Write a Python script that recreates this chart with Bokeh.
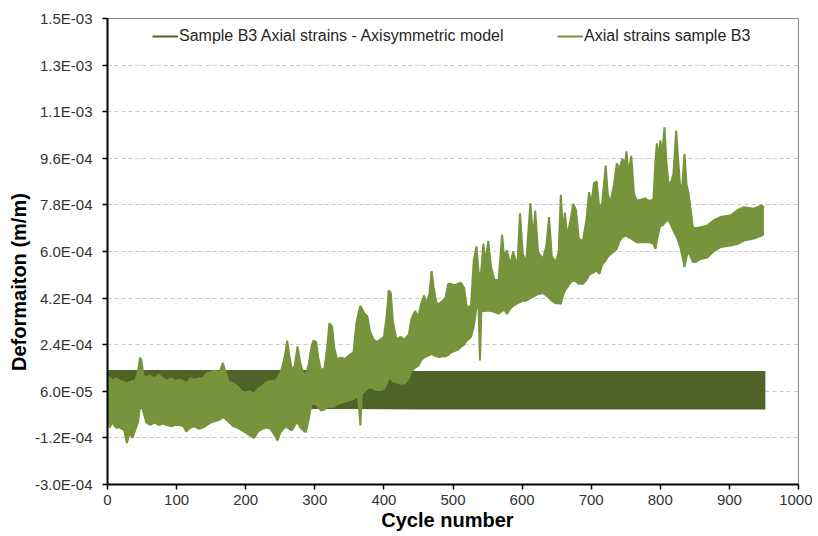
from bokeh.plotting import figure
from bokeh.models import (Range1d, FixedTicker, CustomJSTickFormatter, Legend, LegendItem,
                          ColumnDataSource)
from bokeh.embed import file_html
from bokeh.resources import INLINE

SCALE = 1e-4  # values below are given in units of 1E-04 m/m

# Model (axisymmetric) strains: dense oscillation drawn as its envelope
model_cycle = [0, 360, 450, 952]
model_low = [-0.08, -0.08, -0.10, -0.10]
model_high = [1.42, 1.42, 1.38, 1.38]

# Measured axial strains, sample B3: lower / upper envelope of the oscillation
meas_cycle = [0, 3, 7, 12, 18, 24, 28, 32, 36, 40, 44, 47, 49, 52, 56, 62, 68, 74, 80, 86,
              92, 98, 104, 110, 114, 120, 126, 132, 138, 144, 150, 156, 162, 167, 170, 176,
              182, 188, 194, 200, 206, 212, 218, 224, 230, 236, 242, 246, 250, 253, 257, 260,
              263, 267, 271, 275, 279, 283, 287, 291, 295, 298, 302, 305, 309, 314, 318, 321,
              325, 328, 332, 338, 344, 350, 356, 360, 363, 366, 368, 372, 376, 380, 385, 390,
              395, 400, 404, 407, 410, 413, 418, 424, 430, 436, 440, 445, 450, 454, 458, 462,
              466, 469, 472, 476, 480, 485, 489, 493, 497, 502, 507, 511, 516, 520, 526, 530,
              534, 537, 539, 541, 544, 547, 551, 555, 560, 566, 571, 574, 578, 583, 587, 593,
              597, 601, 606, 612, 616, 619, 623, 630, 635, 639, 643, 649, 653, 656, 659, 662,
              665, 670, 674, 678, 682, 688, 693, 697, 700, 704, 708, 712, 716, 721, 724, 728,
              733, 737, 741, 745, 749, 751, 754, 758, 762, 766, 772, 778, 784, 790, 793, 795,
              798, 800, 803, 806, 809, 812, 816, 819, 823, 826, 829, 832, 835, 838, 841, 844,
              847, 851, 858, 868, 877, 887, 902, 912, 921, 935, 947, 950]
meas_low = [-0.3, -0.8, -0.6, -0.8, -0.8, -0.9, -1.4, -1.0, -1.2, -0.9, -0.6, 0.0, 0.05, -0.2,
            -0.6, -0.7, -0.6, -0.7, -0.65, -0.7, -0.75, -0.7, -0.7, -0.75, -0.95, -0.8, -0.75,
            -0.85, -0.8, -0.7, -0.6, -0.55, -0.5, -0.4, -0.45, -0.6, -0.75, -0.8, -0.9, -1.0,
            -1.1, -1.2, -0.95, -0.85, -0.8, -0.85, -1.1, -1.3, -1.0, -0.9, -0.8, -0.78, -0.85,
            -0.91, -0.7, -0.6, -0.8, -0.9, -0.98, -0.5, 0.1, 0.12, 0.1, 0.0, -0.14, -0.1, 0.0,
            0.0, 0.0, 0.0, 0.1, 0.15, 0.2, 0.25, 0.3, 0.4, 0.3, -0.72, 0.5, 0.6, 0.7, 0.76,
            0.7, 0.65, 0.65, 0.7, 0.9, 1.1, 1.1, 1.0, 0.95, 0.9, 0.9, 1.1, 1.4, 1.5, 1.6, 1.8,
            1.9, 1.95, 2.0, 2.05, 2.0, 1.95, 1.92, 1.95, 1.95, 2.0, 2.1, 2.15, 2.2, 2.3, 2.4,
            2.56, 2.7, 3.1, 3.85, 3.8, 1.79, 3.7, 3.7, 3.7, 3.72, 3.7, 3.66, 3.6, 3.7, 3.75,
            3.59, 3.8, 3.9, 4.0, 4.05, 4.1, 4.1, 4.2, 4.25, 4.3, 4.35, 4.4, 4.3, 4.2, 4.1, 4.0,
            4.0, 3.98, 4.3, 4.5, 4.6, 4.8, 4.9, 4.85, 4.75, 4.75, 4.9, 5.1, 5.15, 5.2, 5.27,
            5.14, 5.5, 5.65, 5.8, 5.9, 6.0, 6.1, 6.4, 6.55, 6.6, 6.6, 6.55, 6.5, 6.42, 6.36,
            6.36, 6.36, 6.36, 6.3, 6.1, 6.4, 6.8, 7.0, 7.0, 7.1, 7.2, 7.2, 7.0, 6.8, 6.6, 6.4,
            6.17, 5.8, 5.4, 5.8, 6.0, 5.8, 5.6, 5.59, 5.71, 5.77, 6.0, 6.17, 6.23, 6.3, 6.42,
            6.5, 6.62, 6.68]
meas_high = [1.1, 1.15, 1.0, 1.1, 1.0, 0.95, 0.9, 0.95, 1.0, 1.0, 1.3, 1.9, 1.8, 1.2, 1.15,
             1.2, 1.1, 1.25, 1.1, 1.0, 1.1, 1.0, 1.05, 1.0, 0.9, 1.1, 1.05, 1.1, 1.1, 1.3, 1.35,
             1.4, 1.3, 1.7, 1.4, 0.95, 0.9, 0.8, 0.6, 0.55, 0.6, 0.5, 0.7, 0.8, 0.95, 1.0, 1.0,
             1.1, 1.3, 1.55, 2.0, 2.56, 2.0, 1.4, 1.6, 2.33, 1.7, 1.3, 1.25, 1.6, 2.3, 2.56,
             2.5, 1.9, 1.4, 1.5, 2.3, 3.23, 3.1, 2.3, 1.85, 1.9, 1.85, 2.0, 2.1, 3.2, 3.6, 3.9,
             3.8, 3.6, 3.5, 2.9, 2.6, 2.5, 2.6, 2.7, 3.5, 4.5, 4.4, 3.3, 2.6, 2.7, 2.6, 2.8,
             3.4, 3.7, 3.5, 4.0, 4.3, 4.0, 4.4, 5.24, 4.6, 4.0, 3.98, 4.1, 4.2, 4.75, 4.75, 4.7,
             4.75, 4.8, 4.6, 3.85, 3.9, 5.65, 6.2, 5.2, 5.0, 5.3, 6.3, 5.6, 6.4, 5.4, 4.9, 4.9,
             6.64, 5.8, 6.04, 5.5, 6.0, 5.4, 7.48, 5.9, 5.6, 7.87, 6.5, 7.58, 6.0, 5.7, 6.2,
             7.33, 5.8, 5.6, 6.0, 8.19, 6.8, 7.5, 6.6, 7.2, 7.84, 7.6, 6.5, 6.4, 7.2, 8.29, 7.8,
             8.64, 8.7, 7.6, 7.9, 9.32, 8.2, 7.9, 8.6, 9.4, 9.2, 9.58, 9.4, 9.87, 9.0, 9.7, 8.2,
             7.97, 8.0, 8.05, 7.95, 8.0, 9.5, 10.18, 9.6, 10.29, 9.8, 10.8, 9.4, 8.6, 8.7, 9.0,
             10.67, 9.5, 8.4, 8.6, 9.77, 8.6, 8.23, 7.6, 6.94, 6.9, 6.94, 7.0, 7.2, 7.33, 7.4,
             7.6, 7.71, 7.65, 7.78, 7.7]

x_ticks = [0, 100, 200, 300, 400, 500, 600, 700, 800, 900, 1000]
y_tick_labels = ["-3.0E-04", "-1.2E-04", "6.0E-05", "2.4E-04", "4.2E-04", "6.0E-04",
                 "7.8E-04", "9.6E-04", "1.1E-03", "1.3E-03", "1.5E-03"]
y_min, y_step = -3.0e-4, 1.8e-4
y_ticks = [round(y_min + i * y_step, 8) for i in range(len(y_tick_labels))]

DARK = "#4F6228"
GREEN = "#77933C"
FONT = "Liberation Sans"
NBSP = "\u00a0"

p = figure(width=812, height=536, output_backend="svg", toolbar_location=None,
           x_range=Range1d(0, 1000), y_range=Range1d(-3.0e-4, 1.5e-3),
           min_border_left=107, min_border_right=14, min_border_top=18, min_border_bottom=52)

p.outline_line_color = "#8C8C8C"
p.outline_line_width = 1
p.xgrid.visible = False
p.ygrid.grid_line_color = "#C8C8C8"
p.ygrid.grid_line_dash = "4 3"
p.ygrid.grid_line_width = 1

src_model = ColumnDataSource(dict(x=model_cycle,
                                  lo=[v * SCALE for v in model_low],
                                  hi=[v * SCALE for v in model_high],
                                  mid=[(a + b) / 2 * SCALE for a, b in zip(model_low, model_high)]))
src_meas = ColumnDataSource(dict(x=meas_cycle,
                                 lo=[v * SCALE for v in meas_low],
                                 hi=[v * SCALE for v in meas_high]))

p.varea(x="x", y1="lo", y2="hi", source=src_model, fill_color=DARK)
# centre line of the model band (hidden inside the band; also serves the legend)
model_line = p.line(x="x", y="mid", source=src_model, line_color=DARK, line_width=2)
p.varea(x="x", y1="lo", y2="hi", source=src_meas, fill_color=GREEN)
meas_edge = p.line(x="x", y="hi", source=src_meas, line_color=GREEN, line_width=2)
p.line(x="x", y="lo", source=src_meas, line_color=GREEN, line_width=2)

items = [(model_line, "Sample B3 Axial strains - Axisymmetric model", 45),
         (meas_edge, "Axial strains sample B3", 450)]
for r, lab, xloc in items:
    lg = Legend(items=[LegendItem(label=lab, renderers=[r])], location=(xloc, 438),
                border_line_color=None, background_fill_alpha=0, padding=0, margin=0,
                glyph_width=26, glyph_height=20, label_height=20, label_standoff=1,
                label_text_font=FONT, label_text_font_size="16px", label_text_color="#262626")
    p.add_layout(lg, "center")

# axes
for ax in (p.xaxis[0], p.yaxis[0]):
    ax.axis_line_color = "black"
    ax.axis_line_width = 2
    ax.major_tick_line_color = "black"
    ax.major_tick_line_width = 1.5
    ax.major_tick_out = 5
    ax.major_tick_in = 0
    ax.minor_tick_line_color = None
    ax.major_label_text_font = FONT
    ax.major_label_text_font_size = "15px"
    ax.major_label_text_color = "#333333"
    ax.axis_label_text_font = FONT
    ax.axis_label_text_font_style = "bold"
    ax.axis_label_text_color = "black"
    ax.axis_label_text_font_size = "20px"

p.xaxis.ticker = FixedTicker(ticks=x_ticks)
p.xaxis.major_label_standoff = 5
p.xaxis.axis_label = "Cycle number" + NBSP * 2
p.xaxis.axis_label_standoff = 1

p.yaxis.ticker = FixedTicker(ticks=y_ticks)
p.yaxis.major_label_standoff = 10
p.yaxis.formatter = CustomJSTickFormatter(
    args=dict(labels=y_tick_labels, y0=y_min, dy=y_step),
    code="const i = Math.round((tick - y0) / dy); return labels[i];")
p.yaxis.axis_label = "Deformaiton (m/m)" + NBSP * 11
p.yaxis.axis_label_standoff = 2

open("out.html", "w").write(file_html(p, INLINE))
